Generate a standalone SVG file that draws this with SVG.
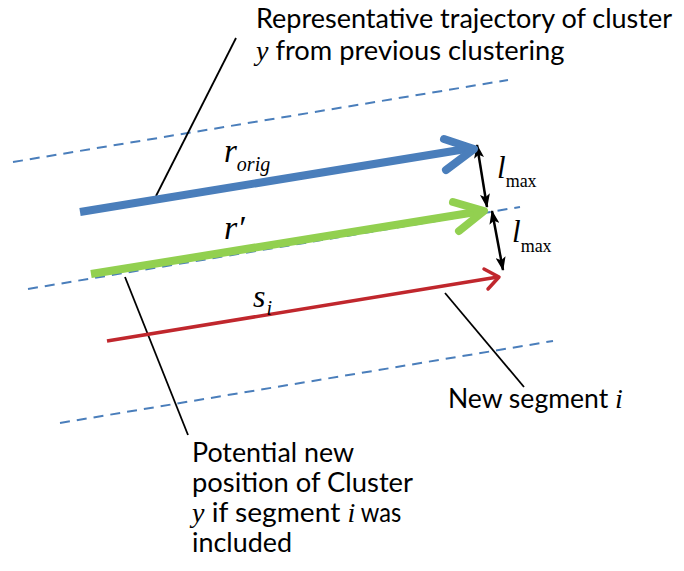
<svg xmlns="http://www.w3.org/2000/svg" width="684" height="571" viewBox="0 0 684 571">
<style>
.dash{stroke:#4a7ebb;stroke-width:2;stroke-dasharray:10 7;fill:none}
.lead{stroke:#000;stroke-width:1.8;fill:none}
.lbl{font-family:Lato,"Liberation Sans",sans-serif;font-size:26px;fill:#000}
.m{font-family:"Liberation Serif","Times New Roman",serif;font-style:italic}
.mr{font-family:"Liberation Serif","Times New Roman",serif;font-style:normal}
.dim{stroke:#000;stroke-width:2.5;fill:none;marker-start:url(#ah);marker-end:url(#ah)}
</style>
<defs>
<marker id="ah" markerUnits="userSpaceOnUse" markerWidth="14" markerHeight="10" viewBox="0 0 14 10" refX="13" refY="5" orient="auto-start-reverse">
<path d="M0,0 L14,5 L0,10 L3,5 z" fill="#000"/>
</marker>
</defs>
<rect width="684" height="571" fill="#fff"/>
<g id="guides">
<line class="dash" x1="13" y1="162" x2="508" y2="80"/>
<line class="dash" x1="28" y1="289" x2="520" y2="207"/>
<line class="dash" x1="60" y1="423" x2="553" y2="341"/>
</g>
<g id="connectors">
<line class="lead" x1="236" y1="38" x2="156" y2="196"/>
<line class="lead" x1="125" y1="277" x2="188" y2="435"/>
<line class="lead" x1="445" y1="293" x2="524" y2="387"/>
<line class="dim" x1="477" y1="145" x2="487" y2="207"/>
<line class="dim" x1="492" y1="211" x2="503" y2="270"/>
</g>
<g id="r_orig">
<line x1="80" y1="212" x2="472" y2="148" stroke="#4a7ebb" stroke-width="8"/>
<polyline points="444,139 474,149 446,170" stroke="#4a7ebb" stroke-width="8" fill="none" stroke-linecap="round" stroke-linejoin="round"/>
<text x="224" y="162" class="m" font-size="33">r<tspan font-size="20" dy="9">orig</tspan></text>
</g>
<g id="r_prime">
<line x1="91" y1="274" x2="482" y2="211" stroke="#92d050" stroke-width="8"/>
<polyline points="453,202 484,211 459,231" stroke="#92d050" stroke-width="8" fill="none" stroke-linecap="round" stroke-linejoin="round"/>
<text x="224" y="239" class="m" font-size="34">r′</text>
</g>
<g id="s_i">
<line x1="107" y1="341" x2="498" y2="277" stroke="#c0272d" stroke-width="3.5"/>
<polyline points="484,269 499,277 488,289" stroke="#c0272d" stroke-width="3.5" fill="none" stroke-linecap="round" stroke-linejoin="round"/>
<text x="253" y="307" class="m" font-size="32">s<tspan font-size="20" dx="1" dy="8">i</tspan></text>
</g>
<g id="lmax1">
<text x="497" y="178" class="m" font-size="31">l<tspan class="mr" font-size="18" dy="9">max</tspan></text>
</g>
<g id="lmax2">
<text x="512" y="242" class="m" font-size="31">l<tspan class="mr" font-size="18" dy="10">max</tspan></text>
</g>
<g id="label_rep">
<text class="lbl" x="256" y="28" textLength="416" lengthAdjust="spacingAndGlyphs">Representative trajectory of cluster</text>
<text class="lbl" x="256" y="60"><tspan class="m" font-size="28">y</tspan><tspan textLength="296" lengthAdjust="spacingAndGlyphs"> from previous clustering</tspan></text>
</g>
<g id="label_new">
<text class="lbl" x="448" y="408"><tspan textLength="167" lengthAdjust="spacingAndGlyphs">New segment </tspan><tspan class="m" font-size="28">i</tspan></text>
</g>
<g id="label_pot">
<text class="lbl" x="192" y="462" textLength="162" lengthAdjust="spacingAndGlyphs">Potential new</text>
<text class="lbl" x="192" y="492" textLength="221" lengthAdjust="spacingAndGlyphs">position of Cluster</text>
<text class="lbl" x="192" y="522"><tspan class="m" font-size="28">y</tspan><tspan textLength="143" lengthAdjust="spacingAndGlyphs"> if segment </tspan><tspan class="m" font-size="28">i</tspan><tspan textLength="46" lengthAdjust="spacingAndGlyphs"> was</tspan></text>
<text class="lbl" x="192" y="552" textLength="100" lengthAdjust="spacingAndGlyphs">included</text>
</g>
</svg>
